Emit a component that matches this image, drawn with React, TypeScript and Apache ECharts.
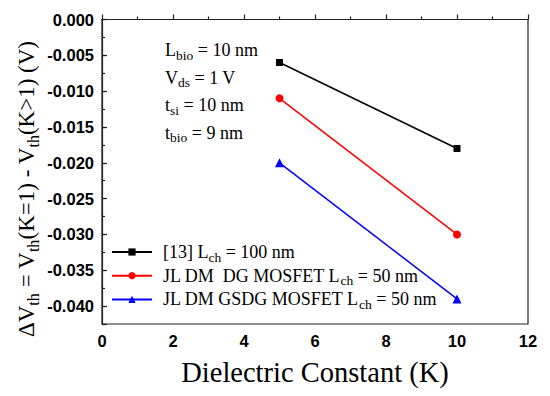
import React, { useEffect, useRef } from "react";
import * as echarts from "echarts";

const kValues = [5, 10];
const ref13 = [-0.006, -0.018];
const jlDmDg = [-0.011, -0.03];
const jlDmGsdg = [-0.02, -0.039];
const seriesNames = [
  "[13] Lch = 100 nm",
  "JL DM  DG MOSFET Lch = 50 nm",
  "JL DM GSDG MOSFET Lch = 50 nm",
];
const legendRich = [
  "{m|[13] L}{s|ch}{m| = 100 nm}",
  "{m|JL DM  DG MOSFET L}{s|ch}{m| = 50 nm}",
  "{m|JL DM GSDG MOSFET L}{s|ch}{m| = 50 nm}",
];
const annotations = [
  "{m|L}{s|bio}{m| = 10 nm}",
  "{m|V}{s|ds}{m| = 1 V}",
  "{m|t}{s|si}{m| = 10 nm}",
  "{m|t}{s|bio}{m| = 9 nm}",
];
const xMin = 0;
const xMax = 12;
const xStep = 2;
const yMin = -0.0425;
const yMax = 0;
const yStep = 0.005;
const yMinorStep = 0.0025;
const xTitle = "Dielectric Constant (K)";
const yTitle = "{b|ΔV}{t|th}{b| = V}{t|th}{b|(K=1) - V}{t|th}{b|(K>1) (V)}";

const serif = "Liberation Serif";
const sans = "Liberation Sans";

export default function App() {
  const ref = useRef<HTMLDivElement>(null);
  useEffect(() => {
    if (!ref.current) return;
    const chart = echarts.init(ref.current, undefined, { renderer: "svg" });
    const gridLeft = 102;
    const gridTop = 19.5;
    const gridRight = 22;
    const gridBottom = 72;
    const richMain = {
      m: { fontFamily: serif, fontSize: 18, lineHeight: 24, verticalAlign: "middle", color: "#000" },
      s: { fontFamily: serif, fontSize: 13.5, lineHeight: 13, verticalAlign: "bottom", color: "#000" },
    };
    const mk = (data: number[]) => kValues.map((k, i) => [k, data[i]]);
    chart.setOption({
      animation: false,
      backgroundColor: "#fff",
      grid: {
        left: gridLeft,
        right: gridRight,
        top: gridTop,
        bottom: gridBottom,
        show: true,
        borderColor: "#222",
        borderWidth: 1.2,
        backgroundColor: "transparent",
      },
      legend: {
        orient: "vertical",
        left: 111,
        top: 243,
        padding: 0,
        itemGap: 2.7,
        itemWidth: 40,
        itemHeight: 9,
        data: seriesNames,
        formatter: (name: string) => legendRich[seriesNames.indexOf(name)],
        textStyle: { rich: richMain, padding: [0, 0, 0, 6] },
      },
      xAxis: {
        type: "value",
        min: xMin,
        max: xMax,
        interval: xStep,
        axisLine: { show: true, lineStyle: { color: "#222", width: 1.2 } },
        axisTick: { show: true, inside: true, length: 5, lineStyle: { color: "#222", width: 1.2 } },
        minorTick: { show: true, splitNumber: 2, length: 3, lineStyle: { color: "#222", width: 1.2 } },
        splitLine: { show: false },
        axisLabel: { fontFamily: sans, fontWeight: "bold", fontSize: 16.5, color: "#000", margin: 8 },
      },
      yAxis: [
        {
          type: "value",
          min: yMin,
          max: yMax,
          interval: yMinorStep,
          position: "left",
          axisLine: { show: true, lineStyle: { color: "#222", width: 1.2 } },
          axisTick: { show: true, inside: true, length: 3, lineStyle: { color: "#222", width: 1.2 } },
          axisLabel: { show: false },
          splitLine: { show: false },
        },
        {
          type: "value",
          min: 0,
          max: -yMin,
          inverse: true,
          interval: yStep,
          position: "left",
          axisLine: { show: false },
          axisTick: { show: true, inside: true, length: 5, lineStyle: { color: "#222", width: 1.2 } },
          splitLine: { show: false },
          axisLabel: {
            fontFamily: sans,
            fontWeight: "bold",
            fontSize: 16.5,
            color: "#000",
            margin: 8,
            formatter: (v: number) => {
              const r = v / yStep;
              if (Math.abs(r - Math.round(r)) > 1e-6) return "";
              if (Math.abs(v) < 1e-9) return "0.000";
              return "-" + v.toFixed(3);
            },
          },
        },
      ],
      graphic: [
        ...annotations.map((t, i) => ({
          type: "text",
          x: 165,
          y: 50 + i * 27.5,
          style: { text: t, rich: richMain, align: "left", verticalAlign: "middle" },
        })),
        {
          type: "text",
          x: 315,
          y: 372,
          style: {
            text: xTitle,
            fontFamily: serif,
            fontSize: 28.5,
            fill: "#000",
            align: "center",
            verticalAlign: "middle",
          },
        },
        {
          type: "text",
          x: 26,
          y: 189,
          rotation: Math.PI / 2,
          style: {
            text: yTitle,
            align: "center",
            verticalAlign: "middle",
            rich: {
              b: { fontFamily: serif, fontSize: 23, lineHeight: 30, verticalAlign: "middle", color: "#000" },
              t: { fontFamily: serif, fontSize: 16, lineHeight: 16, verticalAlign: "bottom", color: "#000" },
            },
          },
        },
      ],
      series: [
        {
          name: seriesNames[0],
          type: "line",
          data: mk(ref13),
          symbol: "rect",
          symbolSize: 7,
          color: "#000",
          lineStyle: { width: 1.5, color: "#000" },
          itemStyle: { color: "#000" },
        },
        {
          name: seriesNames[1],
          type: "line",
          data: mk(jlDmDg),
          symbol: "circle",
          symbolSize: 8,
          color: "#ff0000",
          lineStyle: { width: 1.5, color: "#ff0000" },
          itemStyle: { color: "#ff0000" },
        },
        {
          name: seriesNames[2],
          type: "line",
          data: mk(jlDmGsdg),
          symbol: "triangle",
          symbolSize: 9,
          color: "#0000ff",
          lineStyle: { width: 1.5, color: "#0000ff" },
          itemStyle: { color: "#0000ff" },
        },
      ],
    });
    return () => chart.dispose();
  }, []);
  return <div ref={ref} style={{ width: 550, height: 396, position: "absolute", left: 0, top: 0 }} />;
}
